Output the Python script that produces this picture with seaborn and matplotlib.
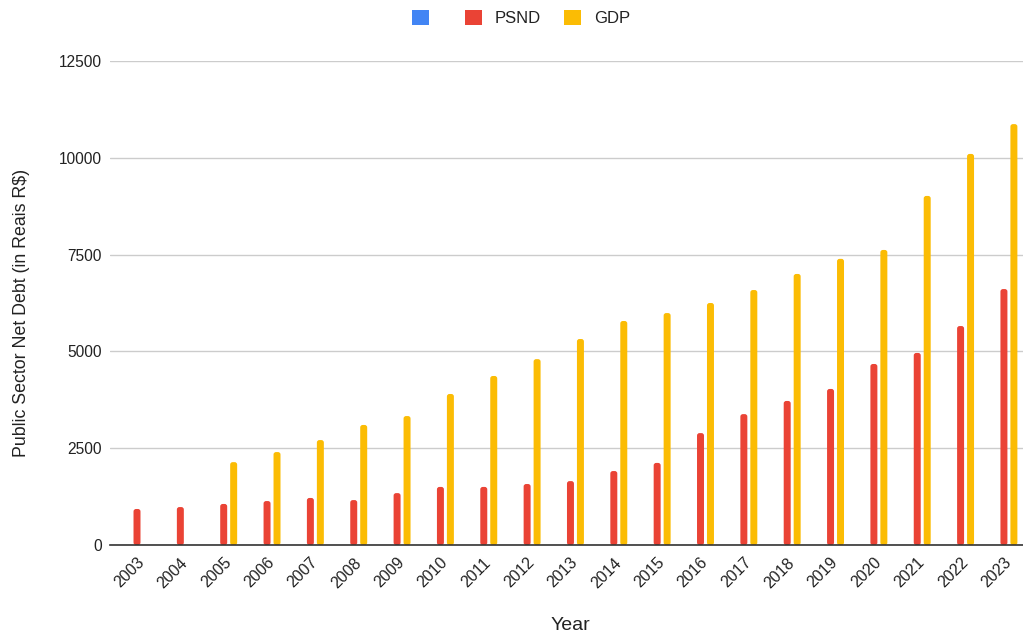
import numpy as np
import pandas as pd
import matplotlib
matplotlib.use("Agg")
import matplotlib.pyplot as plt
import matplotlib.transforms as mtransforms
import seaborn as sns
from matplotlib.patches import Patch, FancyBboxPatch

years = [str(y) for y in range(2003, 2024)]
psnd = [930, 980, 1060, 1135, 1215, 1160, 1340, 1500, 1500, 1575, 1650,
        1910, 2120, 2890, 3380, 3720, 4030, 4675, 4960, 5655, 6610]
gdp = [np.nan, np.nan, 2140, 2400, 2710, 3100, 3330, 3900, 4365, 4800, 5320,
       5785, 5990, 6250, 6585, 7000, 7390, 7620, 9015, 10100, 10870]
series_names = ["", "PSND", "GDP"]
series_colors = ["#4285F4", "#EA4335", "#FBBC04"]

df = pd.concat([
    pd.DataFrame({"Year": years, "Series": "PSND", "Value": psnd}),
    pd.DataFrame({"Year": years, "Series": "GDP", "Value": gdp}),
], ignore_index=True)

sns.set_theme(style="white")
plt.rcParams["font.family"] = ["Liberation Sans", "DejaVu Sans"]

fig = plt.figure(figsize=(10.23, 6.37), dpi=100)
ax = fig.add_axes([110 / 1023, 1 - 545 / 637, (1023 - 110) / 1023, (545 - 61) / 637])

sns.barplot(data=df, x="Year", y="Value", hue="Series", order=years,
            hue_order=series_names, palette=dict(zip(series_names, series_colors)),
            width=0.69, gap=0.3, errorbar=None, linewidth=0, saturation=1,
            ax=ax, legend=False)

ax.set_ylim(0, 12500)
ax.set_yticks([0, 2500, 5000, 7500, 10000, 12500])
ax.set_xlim(-0.623, 20.44)

# Swap the plain rectangles for bars with softly rounded corners
fig.canvas.draw()
px_x = ax.transData.transform((1, 0))[0] - ax.transData.transform((0, 0))[0]
px_y = ax.transData.transform((0, 1))[1] - ax.transData.transform((0, 0))[1]
radius_px = 2.5
for bar in list(ax.patches):
    x, y = bar.get_x(), bar.get_y()
    w, h = bar.get_width(), bar.get_height()
    if not np.isfinite(h) or h <= 0:
        bar.remove()
        continue
    rounded = FancyBboxPatch((x, y), w, h,
                             boxstyle=f"round,pad=0,rounding_size={radius_px / px_x}",
                             mutation_aspect=px_x / px_y,
                             facecolor=bar.get_facecolor(), edgecolor="none",
                             zorder=bar.get_zorder())
    bar.remove()
    ax.add_patch(rounded)

ax.yaxis.grid(True, color="#cccccc", linewidth=1)
ax.set_axisbelow(True)
for side in ["top", "right", "left"]:
    ax.spines[side].set_visible(False)
ax.spines["bottom"].set_color("#333333")
ax.spines["bottom"].set_linewidth(1.2)
ax.spines["bottom"].set_zorder(5)

ax.tick_params(axis="y", length=0, pad=6, labelsize=11.2, labelcolor="#222222")
ax.tick_params(axis="x", length=0, pad=11, labelsize=11.5, labelcolor="#222222")
shift = mtransforms.ScaledTranslation(5 / 100, 0, fig.dpi_scale_trans)
for lbl in ax.get_xticklabels():
    lbl.set_rotation(45)
    lbl.set_ha("right")
    lbl.set_va("center")
    lbl.set_rotation_mode("anchor")
    lbl.set_transform(lbl.get_transform() + shift)

ax.set_xlabel("Year", fontsize=14, color="#222222")
ax.xaxis.set_label_coords(0.504, (545 - 626) / 484)
ax.xaxis.label.set_verticalalignment("center")
ax.set_ylabel("Public Sector Net Debt (in Reais R$)", fontsize=12.8, color="#222222")
ax.yaxis.set_label_coords((30 - 110) / 913, (545 - 313) / 484)

handles = [Patch(facecolor=c, edgecolor="none") for c in series_colors]
fig.legend(handles, series_names, loc="center", bbox_to_anchor=(521 / 1023, 1 - 18 / 637),
           ncol=3, frameon=False, fontsize=12, handlelength=1.02, handleheight=1.02,
           handletextpad=0.78, columnspacing=1.4, labelcolor="#222222")

fig.savefig("out.png", dpi=100)
